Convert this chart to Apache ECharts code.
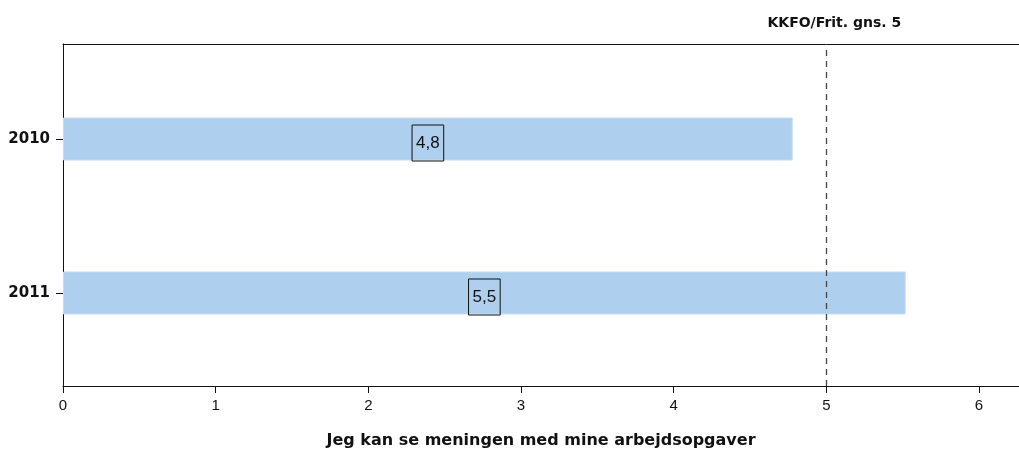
<!DOCTYPE html>
<html><head><meta charset="utf-8">
<script src="https://cdn.jsdelivr.net/npm/echarts@6/dist/echarts.min.js"></script>
<style>html,body{margin:0;padding:0;background:#fff}#c{width:1019px;height:454px}</style>
</head><body><div id="c"></div>
<script>
const categories = ['2010', '2011'];
const values = [4.78, 5.52];
const valueLabels = ['4,8', '5,5'];
const xTicks = [0, 1, 2, 3, 4, 5, 6];
const refValue = 5;
const refLabel = 'KKFO/Frit. gns. 5';
const axisTitle = 'Jeg kan se meningen med mine arbejdsopgaver';

const FONT = 'Arial, "Liberation Sans", sans-serif';
const BOLD = '"DejaVu Sans", sans-serif';
const XMAX = 6.262;
const chart = echarts.init(document.getElementById('c'), null, {renderer: 'canvas'});
chart.setOption({
  animation: false,
  textStyle: {fontFamily: FONT},
  grid: [
    {left: 63, right: 0, top: 44, bottom: 68},
    {left: 63, right: 0, top: 62, bottom: 84}
  ],
  xAxis: [
    {gridIndex: 0, type: 'value', min: 0, max: XMAX, interval: 1, position: 'bottom',
     axisLine: {show: true, lineStyle: {color: '#111', width: 1}},
     axisTick: {show: true, length: 7, customValues: xTicks, lineStyle: {color: '#111'}},
     axisLabel: {show: true, customValues: xTicks, color: '#111', fontSize: 15, margin: 12, fontFamily: FONT},
     splitLine: {show: false},
     name: axisTitle, nameLocation: 'middle', nameGap: 47,
     nameTextStyle: {fontWeight: 'bold', fontSize: 16, color: '#111', fontFamily: BOLD}},
    {gridIndex: 0, type: 'value', min: 0, max: XMAX, position: 'top',
     axisLine: {show: true, lineStyle: {color: '#111', width: 1}},
     axisTick: {show: false}, axisLabel: {show: false}, splitLine: {show: false}},
    {gridIndex: 1, type: 'value', min: 0, max: XMAX, show: false, splitLine: {show: false}}
  ],
  yAxis: [
    {gridIndex: 0, type: 'value', min: 0, max: 1,
     axisLine: {show: true, lineStyle: {color: '#111', width: 1}},
     axisTick: {show: false}, axisLabel: {show: false}, splitLine: {show: false}},
    {gridIndex: 1, type: 'category', data: categories, inverse: true,
     axisLine: {show: false},
     axisTick: {show: true, alignWithLabel: true, length: 7, lineStyle: {color: '#111'}},
     axisLabel: {color: '#111', fontWeight: 'bold', fontSize: 15, margin: 13, fontFamily: BOLD}}
  ],
  series: [
    {type: 'bar', xAxisIndex: 2, yAxisIndex: 1, barWidth: 43, z: 2,
     data: values.map((v, i) => ({value: v, label: {formatter: valueLabels[i]}})),
     itemStyle: {color: '#aecfee', borderColor: '#c4ddf4', borderWidth: 1},
     label: {show: true, position: 'inside', color: '#111', fontSize: 17, fontFamily: FONT,
       borderColor: '#111', borderWidth: 1, padding: [10, 4, 9, 4], offset: [0, 4]}},
    {type: 'line', xAxisIndex: 0, yAxisIndex: 0, data: [], z: 5,
     markLine: {silent: true, symbol: ['none', 'none'],
       lineStyle: {type: [6, 5], color: '#444', width: 1.3},
       label: {show: true, position: 'end', formatter: refLabel, distance: 14,
         padding: [0, 0, 0, 16],
         color: '#111', fontWeight: 'bold', fontSize: 14, fontFamily: BOLD},
       data: [{xAxis: refValue}]}}
  ]
});
</script></body></html>
